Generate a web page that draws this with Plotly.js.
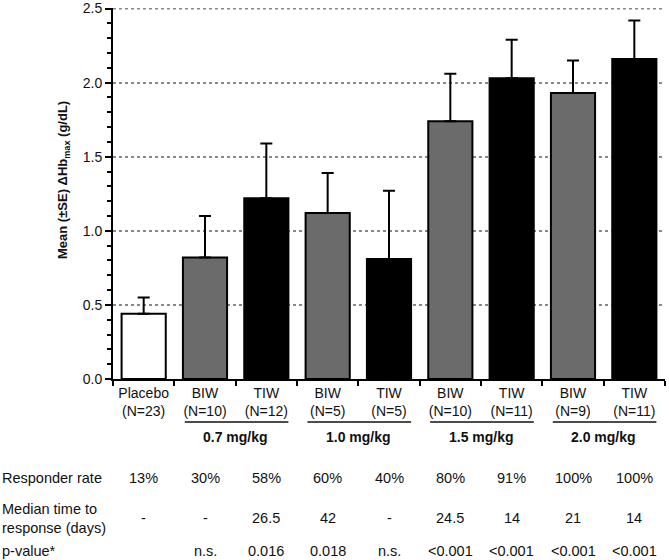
<!DOCTYPE html>
<html>
<head>
<meta charset="utf-8">
<script src="https://cdn.plot.ly/plotly-3.0.1.min.js"></script>
<style>
  body { margin: 0; background: #fff; }
  #graph { width: 669px; height: 560px; }
</style>
</head>
<body>
<div id="graph"></div>
<script>
// Datos del gráfico
const ids = ["pbo", "biw07", "tiw07", "biw10", "tiw10", "biw15", "tiw15", "biw20", "tiw20"];
const tickLabels = ["Placebo<br>(N=23)", "BIW<br>(N=10)", "TIW<br>(N=12)", "BIW<br>(N=5)", "TIW<br>(N=5)",
                    "BIW<br>(N=10)", "TIW<br>(N=11)", "BIW<br>(N=9)", "TIW<br>(N=11)"];
const means = [0.44, 0.82, 1.22, 1.12, 0.81, 1.74, 2.03, 1.93, 2.16];
const se = [0.11, 0.28, 0.37, 0.27, 0.46, 0.32, 0.26, 0.22, 0.26];
const barColors = ["#ffffff", "#6b6b6b", "#000000", "#6b6b6b", "#000000", "#6b6b6b", "#000000", "#6b6b6b", "#000000"];

const yTicks = [0, 0.5, 1, 1.5, 2, 2.5];
const yMinorTicks = [0.1, 0.2, 0.3, 0.4, 0.6, 0.7, 0.8, 0.9, 1.1, 1.2, 1.3, 1.4, 1.6, 1.7, 1.8, 1.9, 2.1, 2.2, 2.3, 2.4];

const doseGroups = ["0.7 mg/kg", "1.0 mg/kg", "1.5 mg/kg", "2.0 mg/kg"];
const doseStart = [1, 3, 5, 7]; // índice de la primera barra del grupo

const responderRate = ["13%", "30%", "58%", "60%", "40%", "80%", "91%", "100%", "100%"];
const medianTime = ["-", "-", "26.5", "42", "-", "24.5", "14", "21", "14"];
const pValues = ["", "n.s.", "0.016", "0.018", "n.s.", "&lt;0.001", "&lt;0.001", "&lt;0.001", "&lt;0.001"];

// Posiciones verticales (fracción del papel, bajo el eje)
const plotTop = 8, plotBottom = 379, plotH = plotBottom - plotTop;
const py = p => (plotBottom - p) / plotH;
const leftPaper = -113 / 552;

const txtFont = { family: "Liberation Sans, Arial, sans-serif", size: 14, color: "#111" };
const tblFont = { family: "Liberation Sans, Arial, sans-serif", size: 14.5, color: "#111" };
const boldFont = { family: "Liberation Sans, Arial, sans-serif", size: 14, color: "#111", weight: "bold" };
const titleFont = { family: "Liberation Sans, Arial, sans-serif", size: 13, color: "#111", weight: "bold" };

const data = [{
    type: "bar",
    x: ids,
    y: means,
    width: 0.72,
    marker: { color: barColors, line: { color: "#000", width: 2 } },
    error_y: {
        type: "data",
        symmetric: false,
        array: se,
        arrayminus: se.map(() => 0),
        color: "#000",
        thickness: 2,
        width: 6
    },
    hoverinfo: "y"
}];

const annotations = [];
const shapes = [];

// Línea de rejilla superior (Plotly la omite en el borde)
shapes.push({
    type: "line", xref: "paper", yref: "y", x0: 0, x1: 1,
    y0: yTicks[yTicks.length - 1], y1: yTicks[yTicks.length - 1],
    line: { color: "#888", width: 2, dash: "dot" }
});

// Eje Y (título como anotación, desplazado hacia arriba como en el original)
annotations.push({
    xref: "paper", yref: "paper", x: -50 / 552, y: py(180),
    text: "Mean (±SE) ΔHb<sub>max</sub> (g/dL)",
    textangle: -90, showarrow: false, font: titleFont,
    xanchor: "center", yanchor: "middle"
});

// Grupos de dosis con línea
doseGroups.forEach((g, i) => {
    const s = doseStart[i];
    annotations.push({
        xref: "x", yref: "paper", x: s + 0.5, y: py(437),
        text: g, showarrow: false, font: boldFont, yanchor: "middle"
    });
    shapes.push({
        type: "line", xref: "x", yref: "paper",
        x0: s - 0.33, x1: s + 1.36, y0: py(422), y1: py(422),
        line: { color: "#111", width: 1.5 }
    });
});

// Filas de la tabla
const rows = [
    { label: "Responder rate", vals: responderRate, y: 478 },
    { label: "Median time to<br>response (days)", vals: medianTime, y: 518 },
    { label: "p-value*", vals: pValues, y: 551 }
];
rows.forEach(r => {
    annotations.push({
        xref: "paper", yref: "paper", x: leftPaper, y: py(r.y),
        text: r.label, showarrow: false, font: tblFont,
        xanchor: "left", yanchor: "middle", align: "left"
    });
    r.vals.forEach((v, i) => {
        if (!v) return;
        annotations.push({
            xref: "x", yref: "paper", x: i, y: py(r.y),
            text: v, showarrow: false, font: tblFont, yanchor: "middle"
        });
    });
});

const layout = {
    width: 669,
    height: 560,
    margin: { l: 113, r: 4, t: plotTop, b: 560 - plotBottom },
    paper_bgcolor: "#fff",
    plot_bgcolor: "#fff",
    showlegend: false,
    font: txtFont,
    xaxis: {
        type: "category",
        tickvals: ids,
        ticktext: tickLabels,
        tickson: "boundaries",
        ticks: "outside",
        ticklen: 5,
        tickwidth: 2,
        tickcolor: "#000",
        showline: true,
        linecolor: "#000",
        linewidth: 2,
        showgrid: false,
        tickfont: txtFont,
        fixedrange: true
    },
    yaxis: {
        range: [0, 2.504],
        tickvals: yTicks,
        tickformat: ".1f",
        ticks: "outside",
        ticklen: 6,
        tickwidth: 2,
        tickcolor: "#000",
        minor: { tickvals: yMinorTicks, ticks: "outside", ticklen: 4, tickwidth: 2, tickcolor: "#000", showgrid: false },
        showline: true,
        linecolor: "#000",
        linewidth: 2,
        showgrid: true,
        gridcolor: "#888",
        gridwidth: 2,
        griddash: "dot",
        zeroline: false,
        tickfont: txtFont,
        fixedrange: true
    },
    annotations: annotations,
    shapes: shapes
};

Plotly.newPlot("graph", data, layout, { displayModeBar: false, staticPlot: true });
</script>
</body>
</html>
